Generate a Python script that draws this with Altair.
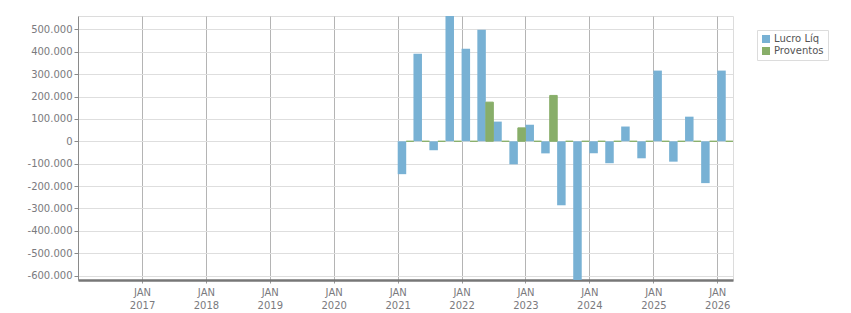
import altair as alt
import pandas as pd

# ---- data -------------------------------------------------------------
quarters = [
    "2021-01-01", "2021-04-01", "2021-07-01", "2021-10-01",
    "2022-01-01", "2022-04-01", "2022-07-01", "2022-10-01",
    "2023-01-01", "2023-04-01", "2023-07-01", "2023-10-01",
    "2024-01-01", "2024-04-01", "2024-07-01", "2024-10-01",
    "2025-01-01", "2025-04-01", "2025-07-01", "2025-10-01",
    "2026-01-01",
]
lucro_liq = [
    -147000, 391000, -40000, 560000,
    414000, 498000, 88000, -103000,
    74000, -54000, -286000, -620000,
    -54000, -98000, 66000, -76000,
    316000, -91000, 110000, -187000,
    316000,
]
proventos = [
    0, 0, 0, 0,
    0, 175000, 0, 60000,
    0, 205000, 0, 0,
    0, 0, 0, 0,
    0, 0, 0, 0,
    0,
]
series_names = ["Lucro Líq", "Proventos"]
series_colors = ["#78b1d4", "#88ae69"]
year_ticks = list(range(2017, 2027))
y_ticks = list(range(-600000, 500001, 100000))

rows = []
for d, v in zip(quarters, lucro_liq):
    rows.append({"date": d, "series": series_names[0], "value": v})
for d, v in zip(quarters, proventos):
    rows.append({"date": d, "series": series_names[1], "value": v})
df = pd.DataFrame(rows)

FONT = "DejaVu Sans"
LABEL_COLOR = "#7a7a7e"

x_enc = alt.X(
    "date:T",
    title=None,
    scale=alt.Scale(
        type="utc",
        domain=[alt.DateTime(year=2016, month=1, date=1, utc=True),
                alt.DateTime(year=2026, month=4, date=1, utc=True)],
        nice=False,
        padding=0,
    ),
    axis=alt.Axis(
        values=[alt.DateTime(year=y, month=1, date=1, utc=True) for y in year_ticks],
        labelExpr="['JAN', utcFormat(datum.value, '%Y')]",
        labelLineHeight=13,
        labelPadding=4,
        labelFont=FONT,
        labelFontSize=10,
        labelColor=LABEL_COLOR,
        grid=True,
        gridColor="#b4b4b4",
        gridWidth=1,
        domainColor="#777777",
        domainWidth=2.5,
        tickColor="#999999",
        tickSize=3,
        zindex=0,
    ),
)
y_enc = alt.Y(
    "value:Q",
    title=None,
    scale=alt.Scale(domain=[-620000, 560000], nice=False, zero=True),
    axis=alt.Axis(
        values=y_ticks,
        labelExpr="replace(replace(format(datum.value, ','), ',', '.'), '\u2212', '-')",
        labelFont=FONT,
        labelFontSize=10,
        labelColor=LABEL_COLOR,
        labelPadding=2,
        grid=True,
        gridColor="#dedede",
        gridWidth=1,
        domainColor="#8a8a8a",
        domainWidth=1,
        tickColor="#8a8a8a",
        tickSize=4,
        zindex=0,
    ),
)
color_enc = alt.Color(
    "series:N",
    scale=alt.Scale(domain=series_names, range=series_colors),
    legend=alt.Legend(
        title=None,
        orient="none",
        legendX=679,
        legendY=14,
        symbolType="square",
        symbolSize=64,
        symbolStrokeWidth=0,
        labelFont=FONT,
        labelFontSize=10,
        labelColor="#555555",
        labelOffset=3,
        rowPadding=2,
        padding=4,
        strokeColor="#dcdcdc",
        fillColor="white",
        cornerRadius=0,
    ),
)

base = alt.Chart(df).encode(x=x_enc, y=y_enc, color=color_enc)

blue = base.transform_filter(alt.datum.series == series_names[0]).mark_bar(
    size=8.5, xOffset=4.25, clip=True
)
green = base.transform_filter(alt.datum.series == series_names[1]).mark_bar(
    size=7.5, xOffset=12.25, clip=True, stroke=series_colors[1], strokeWidth=1
)

chart = (
    alt.layer(blue, green)
    .properties(
        width=655,
        height=264,
        autosize=alt.AutoSizeParams(type="none"),
        padding={"left": 78, "top": 16, "right": 118, "bottom": 33},
        background="white",
    )
    .configure_view(stroke="#dcdcdc", strokeWidth=1)
)

chart.save("out.html", embed_options={"renderer": "svg", "actions": False})
